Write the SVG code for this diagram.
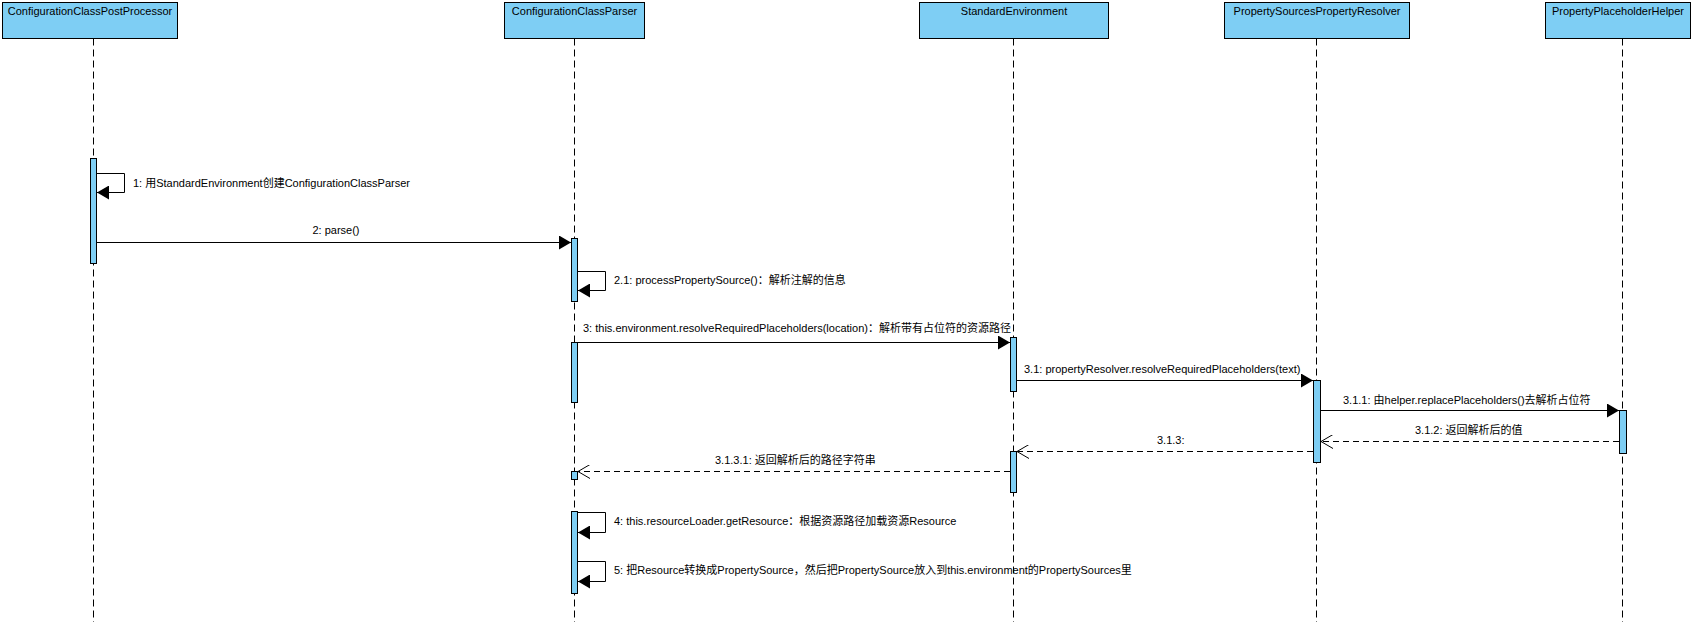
<svg xmlns="http://www.w3.org/2000/svg" width="1703" height="626" viewBox="0 0 1703 626">
<defs>
<marker id="fa" viewBox="0 0 12 14" refX="12" refY="7" markerWidth="12" markerHeight="14" markerUnits="userSpaceOnUse" orient="auto"><path d="M0,0 L12,7 L0,14 Z" fill="#000"/></marker>
<marker id="oa" viewBox="0 0 12 14" refX="12" refY="7" markerWidth="12" markerHeight="14" markerUnits="userSpaceOnUse" orient="auto"><path d="M0,0 L12,7 L0,14" fill="none" stroke="#000" stroke-width="1"/></marker>
</defs>
<style>
.box{fill:#7ecef4;stroke:#000;stroke-width:1}
.life{stroke:#000;stroke-width:1;stroke-dasharray:7,4}
.act{fill:#7ecef4;stroke:#000;stroke-width:1}
.t{font-family:"Liberation Sans","Noto Sans CJK SC",sans-serif;font-size:11px;fill:#000}
.m{stroke:#000;stroke-width:1;fill:none}
.r{stroke:#000;stroke-width:1;fill:none;stroke-dasharray:6,4}
</style>
<rect width="1703" height="626" fill="#fff"/>
<g id="n1"><rect class="box" x="2.5" y="2.5" width="175" height="36"/><text class="t" x="90" y="15" text-anchor="middle">ConfigurationClassPostProcessor</text><line class="life" x1="93.5" y1="38.5" x2="93.5" y2="622"/></g>
<g id="n2"><rect class="box" x="504.5" y="2.5" width="140" height="36"/><text class="t" x="574.5" y="15" text-anchor="middle">ConfigurationClassParser</text><line class="life" x1="574.5" y1="38.5" x2="574.5" y2="622"/></g>
<g id="n3"><rect class="box" x="919.5" y="2.5" width="189" height="36"/><text class="t" x="1014" y="15" text-anchor="middle">StandardEnvironment</text><line class="life" x1="1013.5" y1="38.5" x2="1013.5" y2="622"/></g>
<g id="n4"><rect class="box" x="1224.5" y="2.5" width="185" height="36"/><text class="t" x="1317" y="15" text-anchor="middle">PropertySourcesPropertyResolver</text><line class="life" x1="1316.5" y1="38.5" x2="1316.5" y2="622"/></g>
<g id="n5"><rect class="box" x="1545.5" y="2.5" width="145" height="36"/><text class="t" x="1618" y="15" text-anchor="middle">PropertyPlaceholderHelper</text><line class="life" x1="1622.5" y1="38.5" x2="1622.5" y2="622"/></g>
<g id="activations">
<rect class="act" x="90.5" y="158.5" width="6" height="105"/>
<rect class="act" x="571.5" y="238.5" width="6" height="63"/>
<rect class="act" x="571.5" y="342.5" width="6" height="60"/>
<rect class="act" x="1010.5" y="337.5" width="6" height="54"/>
<rect class="act" x="1313.5" y="380.5" width="7" height="82"/>
<rect class="act" x="1619.5" y="410.5" width="7" height="43"/>
<rect class="act" x="1010.5" y="451.5" width="6" height="41"/>
<rect class="act" x="571.5" y="471.5" width="6" height="8"/>
<rect class="act" x="571.5" y="511.5" width="6" height="82"/>
</g>
<g id="connectors">
<path class="m" d="M97,173.5 H124.5 V192.5 H97" marker-end="url(#fa)"/>
<text class="t" x="133" y="187">1: 用StandardEnvironment创建ConfigurationClassParser</text>
<path class="m" d="M97,242.5 H571" marker-end="url(#fa)"/>
<text class="t" x="336" y="234" text-anchor="middle">2: parse()</text>
<path class="m" d="M578,271.5 H605.5 V290.5 H578" marker-end="url(#fa)"/>
<text class="t" x="614" y="284">2.1: processPropertySource()：解析注解的信息</text>
<path class="m" d="M578,342.5 H1010" marker-end="url(#fa)"/>
<text class="t" x="583" y="332">3: this.environment.resolveRequiredPlaceholders(location)：解析带有占位符的资源路径</text>
<path class="m" d="M1017,380.5 H1313" marker-end="url(#fa)"/>
<text class="t" x="1024" y="373">3.1: propertyResolver.resolveRequiredPlaceholders(text)</text>
<path class="m" d="M1321,410.5 H1619" marker-end="url(#fa)"/>
<text class="t" x="1343" y="404">3.1.1: 由helper.replacePlaceholders()去解析占位符</text>
<path class="r" d="M1619,441.5 H1321" marker-end="url(#oa)"/>
<text class="t" x="1415" y="434">3.1.2: 返回解析后的值</text>
<path class="r" d="M1313,451.5 H1017" marker-end="url(#oa)"/>
<text class="t" x="1157" y="444">3.1.3:</text>
<path class="r" d="M1010,471.5 H578" marker-end="url(#oa)"/>
<text class="t" x="715" y="464">3.1.3.1: 返回解析后的路径字符串</text>
<path class="m" d="M578,512.5 H605.5 V532.5 H578" marker-end="url(#fa)"/>
<text class="t" x="614" y="525">4: this.resourceLoader.getResource：根据资源路径加载资源Resource</text>
<path class="m" d="M578,561.5 H605.5 V581.5 H578" marker-end="url(#fa)"/>
<text class="t" x="614" y="574">5: 把Resource转换成PropertySource，然后把PropertySource放入到this.environment的PropertySources里</text>
</g>
</svg>
